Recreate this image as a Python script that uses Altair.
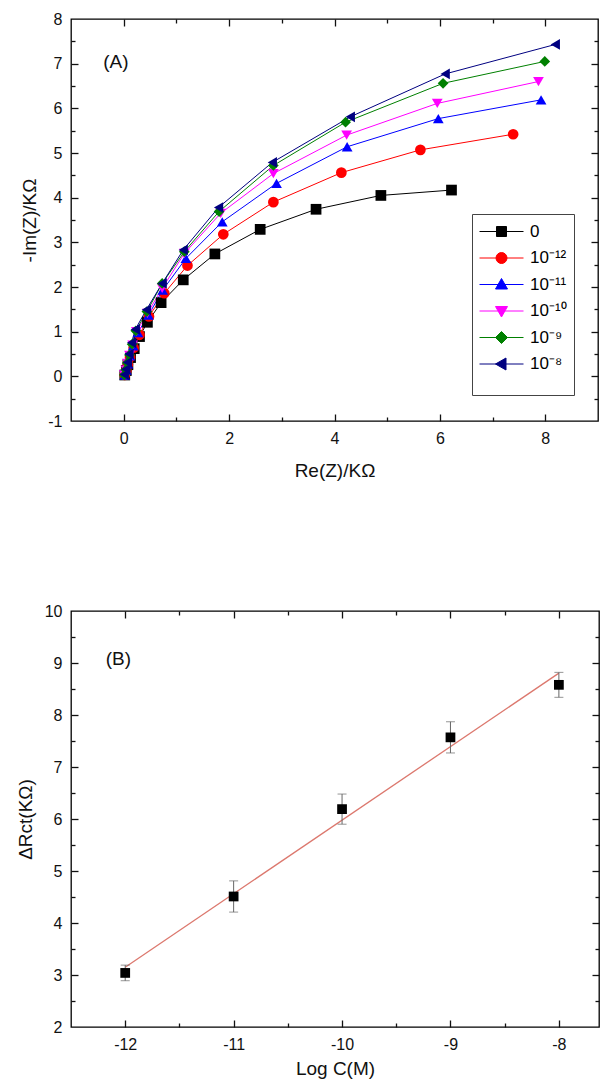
import altair as alt
import pandas as pd

FONT = "Liberation Sans, Arial, sans-serif"

# ---------------- Panel A data (Nyquist plots) ----------------
series_names = ["0", "10⁻¹²", "10⁻¹¹", "10⁻¹⁰", "10⁻⁹", "10⁻⁸"]
series_colors = ["#000000", "#ff0000", "#0000ff", "#ff00ff", "#008000", "#000080"]
point_shapes = ["square", "circle", "triangle-up", "triangle-down", "diamond", "triangle-left"]
legend_paths = [
    "M-1,0H3.4M0.7,-0.5H1.7V0.5H0.7Z",
    "M-1,0H3.4M0.65,0A0.55,0.55,0,1,1,1.75,0A0.55,0.55,0,1,1,0.65,0Z",
    "M-1,0H3.4M1.2,-0.6L1.8,0.45H0.6Z",
    "M-1,0H3.4M1.2,0.6L1.8,-0.45H0.6Z",
    "M-1,0H3.4M1.2,-0.6L1.8,0L1.2,0.6L0.6,0Z",
    "M-1,0H3.4M0.6,0L1.65,-0.6V0.6Z",
]

re_s0 = [6.22, 4.88, 3.65, 2.59, 1.73, 1.13, 0.71, 0.45, 0.30, 0.20, 0.13, 0.08, 0.05, 0.02]
im_s0 = [4.17, 4.05, 3.74, 3.29, 2.74, 2.16, 1.65, 1.21, 0.89, 0.62, 0.42, 0.26, 0.13, 0.03]
re_s12 = [7.39, 5.63, 4.13, 2.84, 1.89, 1.21, 0.77, 0.48, 0.30, 0.19, 0.12, 0.08, 0.05, 0.02]
im_s12 = [5.42, 5.07, 4.56, 3.90, 3.18, 2.48, 1.86, 1.34, 0.93, 0.64, 0.43, 0.27, 0.13, 0.03]
re_s11 = [7.92, 5.97, 4.24, 2.90, 1.87, 1.18, 0.74, 0.47, 0.27, 0.18, 0.12, 0.08, 0.05, 0.02]
im_s11 = [6.19, 5.77, 5.14, 4.32, 3.46, 2.64, 1.93, 1.37, 0.98, 0.68, 0.46, 0.28, 0.14, 0.03]
re_s10 = [7.87, 5.95, 4.23, 2.84, 1.84, 1.15, 0.73, 0.45, 0.24, 0.17, 0.11, 0.07, 0.04, 0.01]
im_s10 = [6.60, 6.11, 5.40, 4.54, 3.65, 2.75, 1.97, 1.41, 1.00, 0.70, 0.47, 0.29, 0.14, 0.03]
re_s9 = [7.99, 6.06, 4.21, 2.84, 1.81, 1.15, 0.73, 0.44, 0.23, 0.16, 0.11, 0.07, 0.04, 0.01]
im_s9 = [7.05, 6.56, 5.69, 4.72, 3.69, 2.79, 2.08, 1.45, 1.02, 0.72, 0.48, 0.30, 0.15, 0.03]
re_s8 = [8.19, 6.10, 4.30, 2.82, 1.80, 1.13, 0.73, 0.43, 0.22, 0.15, 0.10, 0.07, 0.04, 0.01]
im_s8 = [7.43, 6.77, 5.81, 4.79, 3.78, 2.83, 2.08, 1.49, 1.05, 0.75, 0.50, 0.31, 0.16, 0.04]

# ---------------- Panel B data (calibration) ----------------
log_c = [-12, -11, -10, -9, -8]
delta_rct = [3.04, 4.51, 6.19, 7.57, 8.58]
rct_err = [0.15, 0.30, 0.29, 0.30, 0.24]

# axis tick values
xA_major = [0, 2, 4, 6, 8]
xA_minor = [1, 3, 5, 7]
yA_labels = [-1, 0, 1, 2, 3, 4, 5, 6, 7, 8]
yA_major = [0, 1, 2, 3, 4, 5, 6, 7]
yA_minor = [-0.5, 0.5, 1.5, 2.5, 3.5, 4.5, 5.5, 6.5, 7.5]
xB_major = [-12, -11, -10, -9, -8]
xB_minor = [-11.5, -10.5, -9.5, -8.5]
yB_labels = [2, 3, 4, 5, 6, 7, 8, 9, 10]
yB_major = [3, 4, 5, 6, 7, 8, 9]
yB_minor = [2.5, 3.5, 4.5, 5.5, 6.5, 7.5, 8.5, 9.5]

panel_text = ["(A)", "(B)"]
panel_text_x = [-0.39, -12.18]
panel_text_y = [7.04, 9.08]

# ---------------- tables ----------------
rows = []
for name, xs_, ys_ in zip(series_names,
                          [re_s0, re_s12, re_s11, re_s10, re_s9, re_s8],
                          [im_s0, im_s12, im_s11, im_s10, im_s9, im_s8]):
    for i, (a, b) in enumerate(zip(xs_, ys_)):
        rows.append({"series": name, "order": i, "re": a, "im": b})
dfA = pd.DataFrame(rows)
dfB = pd.DataFrame({"logc": log_c, "rct": delta_rct, "err": rct_err})
dfTA = pd.DataFrame({"x": [panel_text_x[0]], "y": [panel_text_y[0]], "t": [panel_text[0]]})
dfTB = pd.DataFrame({"x": [panel_text_x[1]], "y": [panel_text_y[1]], "t": [panel_text[1]]})


def label_axis(orient, values, title, **kw):
    return alt.Axis(orient=orient, values=values, ticks=False, tickSize=0, domain=False,
                    labelPadding=9, labelExpr="toString(datum.value)", title=title,
                    labelFlush=False, labelOverlap=False, **kw)


def tick_axis(orient, values, size):
    return alt.Axis(orient=orient, values=values, labels=False, ticks=True, tickSize=size,
                    offset=-size, domain=False, title=None)


MAJ, MIN = 7, 4

# ---------------- Panel A ----------------
xsA = alt.Scale(domain=[-1, 9], nice=False, zero=False)
ysA = alt.Scale(domain=[-1, 8], nice=False, zero=False)
col_scale = alt.Scale(domain=series_names, range=series_colors)
shape_scale = alt.Scale(domain=series_names, range=point_shapes)
leg_shape_scale = alt.Scale(domain=series_names, range=legend_paths)

legend_def = alt.Legend(title=" ", titleOrient="bottom", titleFontSize=12, titlePadding=5,
                        orient="none", legendX=401, legendY=195, padding=7,
                        strokeColor="#444", fillColor="white", symbolSize=400,
                        symbolStrokeWidth=1, symbolOpacity=1, rowPadding=7.5, labelOffset=30,
                        labelFontSize=17, labelFont=FONT, labelColor="black")

baseA = alt.Chart(dfA)
linesA = baseA.mark_line(strokeWidth=1).encode(
    x=alt.X("re:Q", scale=xsA, axis=label_axis("bottom", xA_major, "Re(Z)/KΩ", titleY=40)),
    y=alt.Y("im:Q", scale=ysA, axis=label_axis("left", yA_labels, "-Im(Z)/KΩ", titleX=-32)),
    color=alt.Color("series:N", scale=col_scale, legend=None),
    order="order:Q",
)
pointsA = baseA.mark_point(filled=True, size=115, opacity=1).encode(
    x=alt.X("re:Q", scale=xsA, axis=tick_axis("bottom", xA_major, MAJ)),
    y=alt.Y("im:Q", scale=ysA, axis=tick_axis("left", yA_major, MAJ)),
    color=alt.Color("series:N", scale=col_scale, legend=None),
    shape=alt.Shape("series:N", scale=shape_scale, legend=None),
)
legendA = baseA.transform_filter("false").mark_point(filled=True).encode(
    x=alt.X("re:Q", scale=xsA, axis=tick_axis("bottom", xA_minor, MIN)),
    y=alt.Y("im:Q", scale=ysA, axis=tick_axis("left", yA_minor, MIN)),
    fill=alt.Fill("series:N", scale=col_scale, legend=legend_def),
    stroke=alt.Stroke("series:N", scale=col_scale, legend=legend_def),
    shape=alt.Shape("series:N", scale=leg_shape_scale, legend=legend_def),
)
textA = alt.Chart(dfTA).mark_text(align="left", baseline="middle", fontSize=19, font=FONT,
                                  color="#111").encode(
    x=alt.X("x:Q", scale=xsA, axis=tick_axis("top", xA_major, MAJ)),
    y=alt.Y("y:Q", scale=ysA, axis=tick_axis("right", yA_major, MAJ)),
    text="t:N",
)
invA = baseA.transform_filter("false").mark_point().encode(
    x=alt.X("re:Q", scale=xsA, axis=tick_axis("top", xA_minor, MIN)),
    y=alt.Y("im:Q", scale=ysA, axis=tick_axis("right", yA_minor, MIN)),
)

panelA = alt.layer(linesA, pointsA, legendA, textA, invA).resolve_scale(
    color="independent", shape="independent", fill="independent", stroke="independent"
).resolve_axis(x="independent", y="independent").properties(width=527, height=402)

# ---------------- Panel B ----------------
xsB = alt.Scale(domain=[-12.5, -7.63], nice=False, zero=False)
ysB = alt.Scale(domain=[2, 10], nice=False, zero=False)
baseB = alt.Chart(dfB)

fitB = baseB.transform_regression("logc", "rct").mark_line(color="#dc786e", strokeWidth=1.3).encode(
    x=alt.X("logc:Q", scale=xsB, axis=label_axis("bottom", xB_major, "Log C(M)", titleY=32)),
    y=alt.Y("rct:Q", scale=ysB, axis=label_axis("left", yB_labels, "ΔRct(KΩ)", titleX=-36)),
)
errB = baseB.transform_calculate(lo="datum.rct - datum.err", hi="datum.rct + datum.err")
rulesB = errB.mark_rule(color="#666", strokeWidth=1).encode(
    x=alt.X("logc:Q", scale=xsB, axis=tick_axis("bottom", xB_major, MAJ)),
    y=alt.Y("lo:Q", scale=ysB, axis=tick_axis("left", yB_major, MAJ)),
    y2="hi:Q",
)
capLoB = errB.mark_tick(orient="horizontal", size=9, thickness=1, color="#666").encode(
    x=alt.X("logc:Q", scale=xsB, axis=tick_axis("bottom", xB_minor, MIN)),
    y=alt.Y("lo:Q", scale=ysB, axis=tick_axis("left", yB_minor, MIN)),
)
capHiB = errB.mark_tick(orient="horizontal", size=9, thickness=1, color="#666").encode(
    x=alt.X("logc:Q", scale=xsB, axis=tick_axis("top", xB_major, MAJ)),
    y=alt.Y("hi:Q", scale=ysB, axis=tick_axis("right", yB_major, MAJ)),
)
ptsB = baseB.mark_point(shape="square", filled=True, size=95, color="black", opacity=1).encode(
    x=alt.X("logc:Q", scale=xsB, axis=tick_axis("top", xB_minor, MIN)),
    y=alt.Y("rct:Q", scale=ysB, axis=tick_axis("right", yB_minor, MIN)),
)
textB = alt.Chart(dfTB).mark_text(align="left", baseline="middle", fontSize=19, font=FONT,
                                  color="#111").encode(
    x=alt.X("x:Q", scale=xsB, axis=None),
    y=alt.Y("y:Q", scale=ysB, axis=None),
    text="t:N",
)

panelB = alt.layer(fitB, rulesB, capLoB, capHiB, ptsB, textB).resolve_axis(
    x="independent", y="independent").properties(width=528, height=416)

chart = alt.vconcat(panelA, panelB, spacing=121).properties(
    padding={"left": 7, "top": 2, "right": 0, "bottom": 0}
).configure_view(stroke="black", strokeWidth=1.3).configure_axis(
    labelFont=FONT, labelFontSize=16, labelColor="#111", titleFont=FONT, titleFontSize=19,
    titleFontWeight="normal", titleColor="#111", tickColor="#111", tickWidth=1.3,
    grid=False, domain=False,
)

chart.save("out.html", embed_options={"renderer": "svg", "actions": False})
